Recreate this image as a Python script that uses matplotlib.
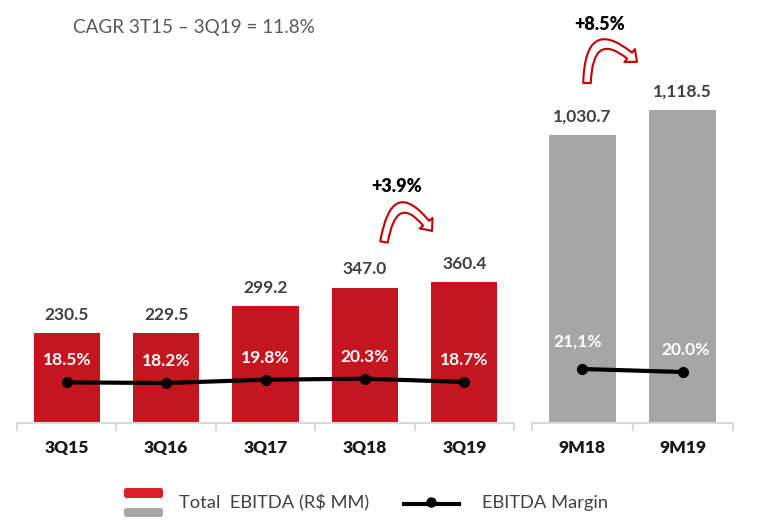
import matplotlib
matplotlib.use("Agg")
import matplotlib.pyplot as plt
from matplotlib.patches import FancyArrowPatch, FancyBboxPatch
from matplotlib.lines import Line2D

# ---------------- data ----------------
quarters = ["3Q15", "3Q16", "3Q17", "3Q18", "3Q19"]
quarter_ebitda = [230.5, 229.5, 299.2, 347.0, 360.4]
quarter_value_labels = ["230.5", "229.5", "299.2", "347.0", "360.4"]
quarter_margin = [18.5, 18.2, 19.8, 20.3, 18.7]
quarter_margin_labels = ["18.5%", "18.2%", "19.8%", "20.3%", "18.7%"]

periods = ["9M18", "9M19"]
period_ebitda = [1030.7, 1118.5]
period_value_labels = ["1,030.7", "1,118.5"]
period_margin = [21.1, 20.0]
period_margin_labels = ["21,1%", "20.0%"]

cagr_text = "CAGR 3T15 – 3Q19 = 11.8%"
growth_quarter = "+3.9%"
growth_period = "+8.5%"
legend_bar_text = "Total  EBITDA (R$ MM)"
legend_line_text = "EBITDA Margin"

# ---------------- styling ----------------
W, H, DPI = 769, 525, 100
RED = "#C5161F"
RED_LEG = "#D91E26"
GRAY = "#A6A6A6"
AXIS_GRAY = "#D9D9D9"
DARK = "#404040"
ARROW_RED = "#C00000"
FONT = "Lato"

plt.rcParams["font.family"] = [FONT, "DejaVu Sans"]

fig = plt.figure(figsize=(W / DPI, H / DPI), dpi=DPI)
fig.patch.set_facecolor("white")

BASE = 423  # baseline pixel row


def add_axes_px(x0, x1, top):
    return fig.add_axes([x0 / W, (H - BASE) / H, (x1 - x0) / W, (BASE - top) / H])


def style_axis(ax, labels):
    n = len(labels)
    ax.set_xlim(-0.5, n - 0.5)
    for s in ["top", "right", "left"]:
        ax.spines[s].set_visible(False)
    ax.spines["bottom"].set_color(AXIS_GRAY)
    ax.spines["bottom"].set_linewidth(1.5)
    ax.set_yticks([])
    ax.set_xticks(range(n))
    ax.set_xticklabels(labels, fontsize=12.5, fontweight="heavy", color="#1A1A1A")
    ax.tick_params(axis="x", which="major", length=0, pad=12)
    ax.set_xticks([i - 0.5 for i in range(n + 1)], minor=True)
    ax.tick_params(axis="x", which="minor", length=6, color=AXIS_GRAY, width=1.5,
                   direction="out")
    ax.patch.set_alpha(0)


def style_twin(tw):
    for s in tw.spines.values():
        s.set_visible(False)
    tw.set_yticks([])
    tw.tick_params(axis="x", which="both", length=0, labelbottom=False)


# ----- left panel (quarters) -----
top_l = 60
scale_l = 0.39  # px per unit
axL = add_axes_px(17, 514, top_l)
axL.bar(range(len(quarters)), quarter_ebitda, width=0.665, color=RED, zorder=2)
axL.set_ylim(0, (BASE - top_l) / scale_l)
style_axis(axL, quarters)
for i, (v, lab) in enumerate(zip(quarter_ebitda, quarter_value_labels)):
    axL.annotate(lab, (i, v), xytext=(0, 13.3), textcoords="offset points",
                 ha="center", va="center", fontsize=12.5, fontweight="bold", color=DARK)

twL = axL.twinx()
hL = BASE - top_l
slopeL = 2.05
yminL = -(BASE - 420.3) / slopeL
twL.set_ylim(yminL, yminL + hL / slopeL)
style_twin(twL)
twL.plot(range(len(quarters)), quarter_margin, color="black", lw=3, marker="o",
         markersize=7, zorder=3)
for i, (m, lab) in enumerate(zip(quarter_margin, quarter_margin_labels)):
    twL.annotate(lab, (i, m), xytext=(0, 15.8), textcoords="offset points",
                 ha="center", va="center", fontsize=12.5, fontweight="bold", color="white")

# ----- right panel (9M) -----
top_r = 20
scale_r = 0.2796
axR = add_axes_px(532, 733, top_r)
axR.bar(range(len(periods)), period_ebitda, width=0.667, color=GRAY, zorder=2)
axR.set_ylim(0, (BASE - top_r) / scale_r)
style_axis(axR, periods)
for i, (v, lab) in enumerate(zip(period_ebitda, period_value_labels)):
    axR.annotate(lab, (i, v), xytext=(0, 13.3), textcoords="offset points",
                 ha="center", va="center", fontsize=12.5, fontweight="bold", color=DARK)

twR = axR.twinx()
hR = BASE - top_r
slopeR = 2.73
yminR = (426.6 - BASE) / slopeR
twR.set_ylim(yminR, yminR + hR / slopeR)
style_twin(twR)
twR.plot(range(len(periods)), period_margin, color="black", lw=3, marker="o",
         markersize=7, zorder=3)
offsR = [(-3.2, 20.0), (1.8, 15.8)]
for i, (m, lab) in enumerate(zip(period_margin, period_margin_labels)):
    twR.annotate(lab, (i, m), xytext=offsR[i], textcoords="offset points",
                 ha="center", va="center", fontsize=12.5, fontweight="bold", color="white")

# ----- annotations -----
def fx(px):
    return px / W


def fy(py):
    return 1 - py / H


fig.text(fx(73), fy(27), cagr_text, fontsize=13.6, color="#595959", ha="left", va="center")
fig.text(fx(397), fy(187), growth_quarter, fontsize=13, fontweight="heavy", color="black",
         ha="center", va="center")
fig.text(fx(600), fy(25), growth_period, fontsize=13, fontweight="heavy", color="black",
         ha="center", va="center")

arrow_style = "simple,head_length=7,head_width=12,tail_width=5.5"
for (a, b, rad) in [((384, 242), (432, 231), -1.2), ((587, 83), (637, 62), -1.1)]:
    arr = FancyArrowPatch((fx(a[0]), fy(a[1])), (fx(b[0]), fy(b[1])),
                          transform=fig.transFigure, arrowstyle=arrow_style,
                          connectionstyle=f"arc3,rad={rad}", facecolor="white",
                          edgecolor=ARROW_RED, linewidth=1.5, mutation_scale=1,
                          shrinkA=0, shrinkB=0)
    fig.add_artist(arr)

# ----- legend -----
inch = fig.dpi_scale_trans


def sw(x0, y0, x1, y1, color):
    p = FancyBboxPatch((x0 / DPI, (H - y1) / DPI), (x1 - x0) / DPI, (y1 - y0) / DPI,
                       boxstyle="round,pad=0,rounding_size=0.025", transform=inch,
                       facecolor=color, edgecolor="none")
    fig.add_artist(p)


sw(124, 488, 163, 498, RED_LEG)
sw(124, 508, 163, 517, GRAY)
fig.text(fx(179), fy(503), legend_bar_text, fontsize=13.2, color=DARK, ha="left", va="center")
fig.add_artist(Line2D([fx(404), fx(459)], [fy(504), fy(504)], transform=fig.transFigure,
                      color="black", lw=3))
fig.add_artist(Line2D([fx(431)], [fy(502)], transform=fig.transFigure, color="black",
                      marker="o", markersize=6.5, lw=0))
fig.text(fx(482), fy(503), legend_line_text, fontsize=13.2, color=DARK, ha="left", va="center")

fig.savefig("out.png", dpi=DPI, facecolor="white")
